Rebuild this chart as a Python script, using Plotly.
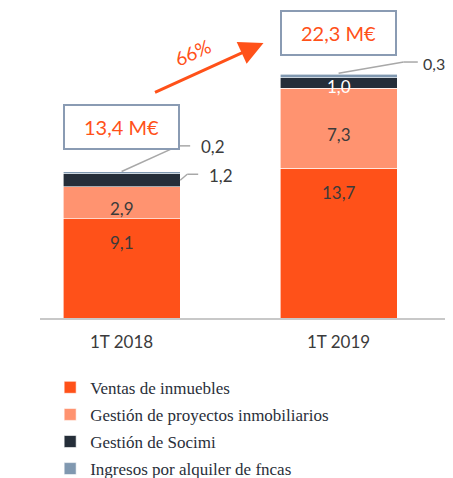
import plotly.graph_objects as go

categories = ["1T 2018", "1T 2019"]
ventas = [9.1, 13.7]
proyectos = [2.9, 7.3]
socimi = [1.2, 1.0]
alquiler = [0.2, 0.3]
totals = [13.4, 22.3]
series_names = ["Ventas de inmuebles", "Gestión de proyectos inmobiliarios",
                "Gestión de Socimi", "Ingresos por alquiler de fncas"]
growth_label = "66%"

colors = ["#FF5119", "#FF9370", "#252E39", "#8098B0"]
series = [ventas, proyectos, socimi, alquiler]
xpos = list(range(len(categories)))
BW = 0.54

def fmt(v):
    return f"{v:.1f}".replace(".", ",")

fig = go.Figure()
for k, (name, vals, col) in enumerate(zip(series_names, series, colors)):
    fig.add_trace(go.Bar(x=xpos, y=vals, name=name, width=BW, legendgroup=f"g{k}",
                         marker=dict(color=col, line=dict(color="white", width=0.6)),
                         hoverinfo="skip"))

SANS = "Lato, 'Open Sans', sans-serif"
ann = []
# inside labels
for i in xpos:
    base = 0
    for k, vals in enumerate(series):
        v = vals[i]
        if k == 0:
            ann.append(dict(x=i, y=base + v, yshift=-24, text=fmt(v), showarrow=False,
                            font=dict(family=SANS, size=17, color="#3b3b3b")))
        elif k == 1:
            ann.append(dict(x=i, y=base + v / 2, yshift=-6, text=fmt(v), showarrow=False,
                            font=dict(family=SANS, size=17, color="#3b3b3b")))
        elif k == 2 and i == 1:
            ann.append(dict(x=i, y=base + v / 2, yshift=-3, text=fmt(v), showarrow=False,
                            font=dict(family=SANS, size=17, color="white")))
        base += v

# outside labels with leaders
shapes = []
lc = dict(color="#A8A8A8", width=1.5)
# 0,2 on bar 1
top0 = totals[0]
shapes += [dict(type="line", xref="x", yref="y", x0=0, y0=top0, x1=0.261, y1=top0 + 2.35, line=lc),
           dict(type="line", xref="x", yref="y", x0=0.261, y0=top0 + 2.35, x1=0.316, y1=top0 + 2.35, line=lc)]
ann.append(dict(x=0.355, y=top0 + 2.3, text=fmt(alquiler[0]), showarrow=False, xanchor="left",
                font=dict(family=SANS, size=17, color="#3b3b3b")))
# 1,2 on bar 1
smid = ventas[0] + proyectos[0] + socimi[0] / 2
shapes += [dict(type="line", xref="x", yref="y", x0=BW / 2, y0=smid, x1=0.3025, y1=smid + 0.55, line=lc),
           dict(type="line", xref="x", yref="y", x0=0.3025, y0=smid + 0.55, x1=0.353, y1=smid + 0.55, line=lc)]
ann.append(dict(x=0.392, y=smid + 0.4, text=fmt(socimi[0]), showarrow=False, xanchor="left",
                font=dict(family=SANS, size=17, color="#3b3b3b")))
# 0,3 on bar 2
top1 = totals[1]
shapes += [dict(type="line", xref="x", yref="y", x0=1, y0=top1 + 0.1, x1=1.30, y1=top1 + 1.12, line=lc),
           dict(type="line", xref="x", yref="y", x0=1.30, y0=top1 + 1.12, x1=1.365, y1=top1 + 1.12, line=lc)]
ann.append(dict(x=1.378, y=top1 + 1.03, text=fmt(alquiler[1]), showarrow=False, xanchor="left",
                font=dict(family=SANS, size=16, color="#3b3b3b")))

# total boxes
for i, (t, ys) in enumerate(zip(totals, [45, 41])):
    ann.append(dict(x=i, y=t, yshift=ys, text=fmt(t) + " M€", showarrow=False,
                    width=113, height=42, borderwidth=2, bordercolor="#8A9BB3", borderpad=0,
                    bgcolor="white",
                    font=dict(family=SANS, size=20, color="#FF5119")))

# growth arrow
ann.append(dict(x=0.654, y=25.16, ax=-110, ay=50, xref="x", yref="y", axref="pixel", ayref="pixel",
                text="", showarrow=True, arrowhead=2, arrowsize=1.6, arrowwidth=3, arrowcolor="#FF5119"))
ann.append(dict(x=0.325, y=24.3, text=growth_label, showarrow=False, textangle=-24,
                font=dict(family=SANS, size=19, color="#FF5119")))

fig.update_layout(
    width=445, height=470,
    barmode="stack",
    plot_bgcolor="white", paper_bgcolor="white",
    margin=dict(l=32, r=7, t=2, b=160, autoexpand=False),
    showlegend=True,
    legend=dict(orientation="v", x=0.025, y=-0.168, xanchor="left", yanchor="top",
                traceorder="grouped", tracegroupgap=2,
                font=dict(family="'Liberation Serif', 'DejaVu Serif', serif", size=17, color="#2A2F3A")),
    annotations=ann,
    shapes=shapes,
    xaxis=dict(range=[-0.376, 1.495], tickvals=xpos, ticktext=categories,
               showline=True, linecolor="#C8C8C8", linewidth=1.5, showgrid=False,
               zeroline=False, ticks="", ticklabelstandoff=8,
               tickfont=dict(family=SANS, size=17, color="#3b3b3b")),
    yaxis=dict(range=[0, 28.18], visible=False, showgrid=False, zeroline=False),
)

fig.write_html("out.html")
